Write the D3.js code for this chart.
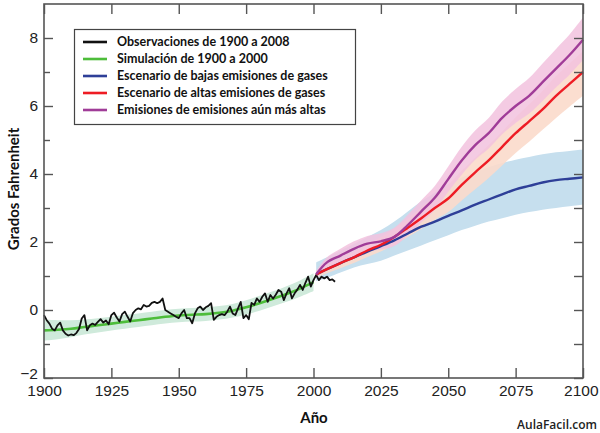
<!DOCTYPE html>
<html><head><meta charset="utf-8">
<script src="https://cdn.jsdelivr.net/npm/d3@7"></script>
<style>html,body{margin:0;padding:0;background:#fff;}svg{display:block;}</style>
</head><body><svg id="c" width="600" height="433"></svg>
<script>
// ---------- DATA ----------
const obsYears = d3.range(1900, 2009);
const obsValues = [-0.15,-0.3,-0.4,-0.55,-0.6,-0.45,-0.37,-0.6,-0.7,-0.75,
 -0.72,-0.74,-0.68,-0.56,-0.25,-0.15,-0.6,-0.45,-0.4,-0.44,
 -0.35,-0.27,-0.37,-0.31,-0.42,-0.15,-0.08,-0.22,-0.34,-0.12,
 -0.05,-0.2,-0.34,-0.09,0.0,0.05,0.02,0.15,0.1,0.12,
 0.21,0.24,0.2,0.24,0.34,0.0,-0.05,-0.1,-0.15,-0.2,
 -0.24,-0.1,0.0,-0.24,-0.24,-0.39,-0.1,0.05,0.1,0.0,
 0.08,0.12,0.2,-0.29,-0.2,-0.15,-0.12,-0.15,-0.05,0.1,
 -0.1,-0.15,0.05,0.24,-0.24,-0.15,-0.27,0.21,0.15,0.34,
 0.24,0.39,0.49,0.24,0.44,0.34,0.45,0.59,0.54,0.29,
 0.49,0.64,0.34,0.49,0.6,0.74,0.59,0.8,0.98,0.69,
 0.88,1.03,0.88,0.98,0.93,0.98,0.88,0.9,0.83];

const simYears = [1900,1905,1910,1915,1920,1925,1930,1935,1940,1945,1950,1955,1960,1965,1970,1975,1980,1985,1990,1995,2000];
const simValues = [-0.6,-0.58,-0.55,-0.5,-0.45,-0.4,-0.35,-0.3,-0.25,-0.2,-0.16,-0.14,-0.12,-0.08,-0.02,0.08,0.2,0.33,0.47,0.63,0.82];
const simLow  = [-0.9,-0.86,-0.8,-0.72,-0.66,-0.6,-0.55,-0.5,-0.45,-0.4,-0.36,-0.34,-0.32,-0.28,-0.22,-0.13,-0.02,0.11,0.24,0.39,0.56];
const simHigh = [-0.28,-0.3,-0.3,-0.28,-0.24,-0.2,-0.15,-0.1,-0.05,0.0,0.04,0.06,0.08,0.12,0.18,0.29,0.42,0.55,0.7,0.87,1.08];

const projYears = [2001,2005,2010,2015,2020,2025,2030,2035,2040,2045,2050,2055,2060,2065,2070,2075,2080,2085,2090,2095,2100];
const lowValues  = [1.05,1.2,1.38,1.55,1.72,1.88,2.05,2.25,2.45,2.6,2.77,2.93,3.1,3.25,3.4,3.55,3.65,3.75,3.82,3.86,3.9];
const lowBandLo  = [0.85,0.95,1.1,1.25,1.35,1.45,1.6,1.75,1.9,2.05,2.2,2.35,2.48,2.6,2.7,2.8,2.88,2.95,3.0,3.05,3.1];
const lowBandHi  = [1.4,1.55,1.75,1.95,2.15,2.35,2.6,2.9,3.2,3.45,3.7,3.9,4.05,4.2,4.32,4.42,4.5,4.58,4.64,4.68,4.72];
const highValues = [1.05,1.2,1.38,1.55,1.75,1.92,2.15,2.42,2.7,3.0,3.28,3.68,4.05,4.4,4.8,5.2,5.55,5.9,6.3,6.65,7.0];
const highBandLo = [0.95,1.08,1.23,1.38,1.56,1.72,1.92,2.15,2.38,2.65,2.88,3.22,3.55,3.88,4.25,4.62,4.95,5.3,5.65,5.98,6.3];
const highBandHi = [1.15,1.32,1.52,1.72,1.95,2.15,2.4,2.7,3.02,3.35,3.68,4.1,4.48,4.85,5.25,5.67,6.05,6.45,6.88,7.25,7.62];
const higherValues = [1.05,1.4,1.6,1.8,1.95,2.02,2.15,2.5,2.9,3.3,3.85,4.4,4.85,5.2,5.65,6.0,6.3,6.7,7.1,7.5,7.95];
const higherBandLo = [0.95,1.25,1.4,1.58,1.72,1.78,1.88,2.2,2.57,2.95,3.48,3.98,4.42,4.75,5.17,5.5,5.78,6.15,6.55,6.92,7.35];
const higherBandHi = [1.15,1.55,1.8,2.02,2.18,2.26,2.42,2.8,3.23,3.65,4.22,4.8,5.28,5.65,6.13,6.5,6.82,7.25,7.68,8.1,8.6];

const xTicks = [1900,1925,1950,1975,2000,2025,2050,2075,2100];
const yTicks = [-2,0,2,4,6,8];
const yMinor = [-1,1,3,5,7];
const legendLabels = ["Observaciones de 1900 a 2008","Simulación de 1900 a 2000","Escenario de bajas emisiones de gases","Escenario de altas emisiones de gases","Emisiones de emisiones aún más altas"];
const legendColors = ["#111111","#4dbd3a","#2e3f98","#ee1c24","#a03c98"];

// ---------- LAYOUT ----------
const svg = d3.select("#c");
const m = {l:44, r:17, t:4, b:55};
const W = 600 - m.l - m.r, H = 433 - m.t - m.b;
const x = d3.scaleLinear().domain([1900,2100]).range([m.l, m.l+W]);
const y = d3.scaleLinear().domain([-2,9]).range([m.t+H, m.t]);
const g = svg.append("g");

function band(years, lo, hi, fill, op){
  const a = d3.area().x((d,i)=>x(years[i])).y0((d,i)=>y(lo[i])).y1((d,i)=>y(hi[i])).curve(d3.curveCatmullRom);
  g.append("path").datum(years).attr("d", a).attr("fill", fill).attr("fill-opacity", op);
}
function line(years, vals, color, w, curve){
  const l = d3.line().x((d,i)=>x(years[i])).y((d,i)=>y(vals[i])).curve(curve||d3.curveCatmullRom);
  g.append("path").datum(years).attr("d", l).attr("fill","none").attr("stroke", color).attr("stroke-width", w).attr("stroke-linejoin","round");
}

band(simYears, simLow, simHigh, "#cfeadb", 1);
band(projYears, lowBandLo, lowBandHi, "#c6dfee", 1);
band(projYears, highBandLo, highBandHi, "#fbdacb", 0.9);
band(projYears, higherBandLo, higherBandHi, "#f2c2de", 0.85);

line(simYears, simValues, "#4dbd3a", 2.6);
line(obsYears, obsValues, "#111111", 1.8, d3.curveLinear);
line(projYears, lowValues, "#2e3f98", 2.4);
line(projYears, highValues, "#ee1c24", 2.4);
line(projYears, higherValues, "#a03c98", 2.4);

// ---------- AXES ----------
const axCol = "#555";
const fontNum = "'Liberation Sans', Arial, sans-serif";
const xb = svg.append("g").attr("transform",`translate(0,${m.t+H})`)
  .call(d3.axisBottom(x).tickValues(xTicks).tickFormat(d3.format("d")).tickSize(-10).tickSizeOuter(0).tickPadding(5));
const xt = svg.append("g").attr("transform",`translate(0,${m.t})`)
  .call(d3.axisTop(x).tickValues(xTicks).tickFormat("").tickSize(-10).tickSizeOuter(0));
const yl = svg.append("g").attr("transform",`translate(${m.l},0)`)
  .call(d3.axisLeft(y).tickValues(yTicks).tickFormat(d3.format("d")).tickSize(-9).tickSizeOuter(0).tickPadding(6));
const ylm = svg.append("g").attr("transform",`translate(${m.l},0)`)
  .call(d3.axisLeft(y).tickValues(yMinor).tickFormat("").tickSize(-6).tickSizeOuter(0));
const yr = svg.append("g").attr("transform",`translate(${m.l+W},0)`)
  .call(d3.axisRight(y).tickValues(yTicks.concat(yMinor)).tickFormat("").tickSize(-9).tickSizeOuter(0));
[xb,xt,yl,ylm,yr].forEach(a=>{
  a.selectAll(".domain").remove();
  a.selectAll("line").attr("stroke",axCol).attr("stroke-width",1.4);
  a.selectAll("text").attr("fill","#222").style("font-family",fontNum).style("font-size","15.5px");
});
xb.selectAll("text").attr("dy","0.85em");
xb.selectAll(".tick").filter(d=>d===2100).select("text").attr("text-anchor","end").attr("x",15);
yl.selectAll("text").attr("dy","0.3em");
yl.selectAll(".tick").filter(d=>d===-2).select("text").attr("dy","0.05em");
svg.append("rect").attr("x",m.l).attr("y",m.t).attr("width",W).attr("height",H)
  .attr("fill","none").attr("stroke",axCol).attr("stroke-width",1.6);

// titles
svg.append("text").attr("transform",`translate(19,${m.t+H/2-2}) rotate(-90)`).attr("text-anchor","middle")
  .style("font-family","Lato, 'Open Sans', sans-serif").style("font-weight","bold").style("font-size","15px").attr("fill","#111")
  .text("Grados Fahrenheit");
svg.append("text").attr("x",314).attr("y",423).attr("text-anchor","middle")
  .style("font-family","Lato, 'Open Sans', sans-serif").style("font-weight","bold").style("font-size","15px").attr("fill","#111")
  .text("Año");

// legend
const lg = svg.append("g");
lg.append("rect").attr("x",74.5).attr("y",29.5).attr("width",281).attr("height",95).attr("fill","#fff").attr("stroke","#444").attr("stroke-width",1.2);
legendLabels.forEach((t,i)=>{
  const yy = 42 + i*17;
  lg.append("line").attr("x1",83).attr("x2",107).attr("y1",yy).attr("y2",yy).attr("stroke",legendColors[i]).attr("stroke-width",2.6);
  lg.append("text").attr("x",117).attr("y",yy).attr("dy","0.35em")
    .style("font-family","Lato, sans-serif").style("font-weight","bold").style("font-size","12.5px").attr("fill","#111").text(t);
});

// watermark
svg.append("text").attr("x",597).attr("y",429).attr("text-anchor","end")
  .style("font-family","'Open Sans', sans-serif").style("font-weight","600").style("font-size","12px").attr("fill","#222")
  .text("AulaFacil.com");
</script></body></html>
